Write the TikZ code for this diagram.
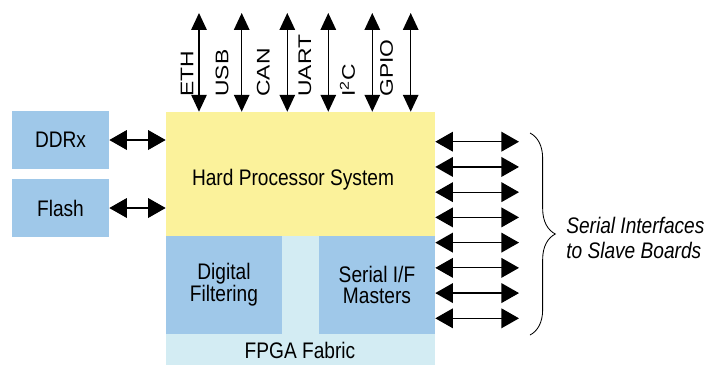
\documentclass[tikz,border=0pt]{standalone}
\usepackage{fontspec}
\setmainfont{Liberation Sans}[FakeStretch=0.85]
\newfontfamily\portfont{Liberation Sans}[FakeStretch=1.25]
\usetikzlibrary{arrows.meta,decorations.pathreplacing}
\definecolor{hpsyellow}{HTML}{FBF29B}
\definecolor{blockblue}{HTML}{9FC8E9}
\definecolor{fabric}{HTML}{D3ECF3}
\tikzset{
  block/.style={fill=blockblue, draw=none, inner sep=0pt, align=center,
    font=\fontsize{16}{15.5}\selectfont},
  link/.style={line width=0.9pt,
    {Triangle[length=12.5pt,width=14pt]}-{Triangle[length=12.5pt,width=14pt]}},
  bus/.style={line width=0.9pt,
    {Triangle[length=12pt,width=11pt]}-{Triangle[length=12pt,width=11pt]}},
  portlabel/.style={rotate=90, anchor=west, inner sep=0pt,
    font=\portfont\fontsize{13}{15}\selectfont}
}

\begin{document}
\begin{tikzpicture}[x=0.025cm,y=-0.025cm]
\useasboundingbox (0,0) rectangle (712,364);
% blocks
\node[block, fill=fabric, minimum width=6.725cm, minimum height=3.4cm] (fabric) at (300.5,304) {};
\node[block, fill=hpsyellow, minimum width=6.725cm, minimum height=3.1cm] (hps) at (300.5,174) {};
\node[block, minimum width=2.9cm, minimum height=2.45cm] (filter) at (224,285) {Digital\\Filtering};
\node[block, minimum width=2.9cm, minimum height=2.45cm] (masters) at (377,285) {Serial I/F\\Masters};
\node[block, minimum width=2.425cm, minimum height=1.45cm] (ddr) at (60.5,140) {DDRx};
\node[block, minimum width=2.425cm, minimum height=1.45cm] (flash) at (60.5,208) {Flash};
\node[font=\fontsize{16}{19}\selectfont, inner sep=0pt] (hpstext) at (293,180) {Hard Processor System};
\node[font=\fontsize{16}{19}\selectfont, inner sep=0pt] (fabrictext) at (300,350.5) {FPGA Fabric};

\draw[link] (ddr.east) -- (ddr.east -| hps.west);
\draw[link] (flash.east) -- (flash.east -| hps.west);

% peripheral ports on top
\foreach \x/\lx/\name [count=\i] in {199/187/ETH, 241.7/222/USB, 287.3/263.3/CAN,
    328.3/305/UART, 372.3/347.5/I\textsuperscript{2}C, 410.7/386.7/GPIO} {
  \coordinate (top\i) at (\x,13);
  \draw[bus] (top\i) -- (top\i |- hps.north);
  \node[portlabel] (port\i) at (\lx,97) {\name};
}

% serial links to the slave boards
\pgfmathsetmacro{\gap}{25.23}
\foreach \i in {0,...,7} {
  \coordinate (slink\i) at (519,141.7+\i*\gap);
  \draw[link] (slink\i -| hps.east) -- (slink\i);
}
\coordinate (bracetop) at (530,133);
\coordinate (bracebot) at (530,335);
\draw[line width=0.6pt, decorate, decoration={brace, amplitude=18pt}] (bracetop) -- (bracebot);
\node[anchor=west, align=left, inner sep=0pt, font=\itshape\fontsize{16}{17.7}\selectfont]
  (slaves) at (566,238) {Serial Interfaces\\to Slave Boards};
\end{tikzpicture}
\end{document}
